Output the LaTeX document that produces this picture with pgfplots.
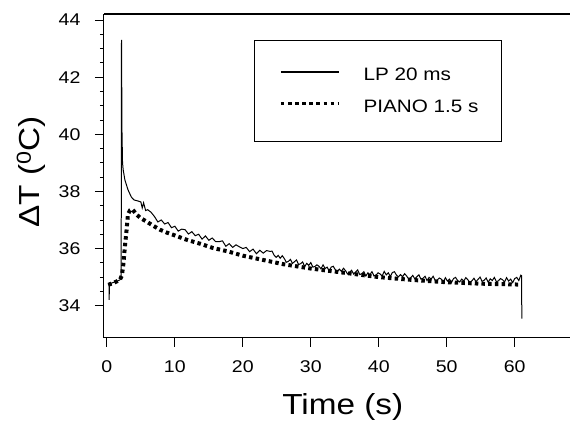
\documentclass[border=0pt]{standalone}
\usepackage{pgfplots}
\pgfplotsset{compat=1.18}
\usepackage{fontspec}
\setmainfont[FakeStretch=1.15]{Liberation Sans}
\begin{document}
\begin{tikzpicture}
\begin{axis}[
  at={(0pt,0pt)}, anchor=south west,
  scale only axis, width=467pt, height=324pt,
  xmin=-0.44, xmax=68.2, ymin=32.88, ymax=44.21,
  axis x line*=box, axis y line*=left,
  xtick pos=bottom,
  xtick={0,10,...,60}, ytick={34,36,...,44},
  minor y tick num=3,
  tick align=outside, major tick length=9pt, minor tick length=4pt,
  tick style={black, line width=0.9pt},
  axis line style={black, line width=1.1pt},
  /pgf/number format/assume math mode=true,
  tick label style={font=\fontsize{17}{20}\selectfont},
  x tick label style={yshift=-10pt},
  y tick label style={xshift=-11pt},
  xlabel={Time (s)},
  ylabel={ΔT (\textsuperscript{0}C)},
  xlabel style={font=\fontsize{29}{34}\selectfont, at={(axis description cs:0.512,-0.2377)}, anchor=base},
  ylabel style={font=\fontsize{29}{34}\selectfont, at={(axis description cs:-0.137,0.512)}, anchor=base, rotate=0},
  legend style={at={(axis description cs:0.321,0.92)}, anchor=north west, draw=black, line width=0.7pt,
     inner xsep=23pt, inner ysep=27pt, row sep=17pt, font=\fontsize{18}{21}\selectfont,
     nodes={inner sep=0pt}, /tikz/every odd column/.append style={column sep=23pt}},
  legend cell align=left,
  reverse legend,
  legend image code/.code={\path[draw=none] (0pt,-2pt) rectangle (62pt,8pt); \draw[#1] (4pt,3.7pt) -- (62pt,3.7pt);},
]
\addplot[black, line width=4pt, dash pattern=on 3.5pt off 3.2pt, legend image post style={line width=3.2pt, dash pattern=on 3.5pt off 3.6pt}] coordinates {
(0.2,34.73) (1.0,34.8) (1.9,34.9) (2.2,35.05) (2.4,35.4) (2.65,36.07) (2.9,36.66) (3.1,37.2) (3.4,37.34) (3.7,37.38) (4.0,37.3) (4.4,37.18) (5.0,37.06) (5.8,36.95) (6.8,36.8) (7.8,36.66) (8.8,36.56) (9.75,36.48) (11.7,36.31) (13.7,36.17) (15.6,36.02) (17.8,35.9) (20,35.75) (23,35.6) (26,35.45) (30,35.3) (35,35.15) (40,35.0) (45,34.9) (50,34.82) (55,34.77) (60.5,34.74)
};
\addlegendentry{PIANO 1.5 s}
\addplot[black, line width=1pt, legend image post style={line width=2pt}] coordinates {
(0.2,34.73) (0.33,34.77) (0.34,34.2) (0.36,34.76) (0.8,34.8) (1.3,34.84) (1.9,34.9) (2.1,34.95) (2.15,43.3) (2.22,40.1) (2.3,39.0) (2.4,38.75) (2.65,38.4) (3.1,38.06) (3.6,37.8) (4.0,37.7)
(4.5,37.67) (5.0,37.63) (5.2,37.42) (5.4,37.6) (5.7,37.33) (6.0,37.36) (6.5,37.27) (7.0,37.12) (7.5,36.93) (8.0,37.0) (8.5,36.86) (9.0,36.91) (9.5,36.73) (10.0,36.78) (10.5,36.61) (11.0,36.68) (11.5,36.66) (12.0,36.51) (12.5,36.59) (13.0,36.45) (13.5,36.5) (14.0,36.33) (14.5,36.44) (15.0,36.29) (15.5,36.37) (16.0,36.24) (16.5,36.24) (17.0,36.27) (17.5,36.08) (18.0,36.17) (18.5,36.04) (19.0,36.13) (19.5,36.06) (20.0,36.0) (20.5,36.04) (21.0,35.89) (21.5,35.98) (22.0,35.82) (22.5,35.94) (23.0,35.84) (23.5,35.93)
(24.0,35.90) (24.3,35.91) (24.6,35.77) (24.9,35.69) (25.2,35.76) (25.5,35.66) (25.8,35.75) (26.1,35.65) (26.4,35.52) (26.7,35.55) (27.0,35.62) (27.3,35.48) (27.6,35.54) (27.9,35.60) (28.2,35.44) (28.5,35.47) (28.8,35.53) (29.1,35.37) (29.4,35.48) (29.7,35.41) (30.0,35.51) (30.3,35.35) (30.6,35.37) (30.9,35.43) (31.2,35.38) (31.5,35.29) (31.8,35.43) (32.1,35.30) (32.4,35.35) (32.7,35.22)
(33.0,35.35) (33.3,35.38) (33.6,35.26) (33.9,35.19) (34.2,35.28) (34.5,35.20) (34.8,35.31) (35.1,35.23) (35.4,35.11) (35.7,35.16) (36.0,35.24) (36.3,35.11) (36.6,35.18) (36.9,35.25) (37.2,35.09) (37.5,35.12) (37.8,35.19) (38.1,35.04) (38.4,35.15) (38.7,35.09) (39.0,35.19) (39.3,35.04) (39.6,35.07) (39.9,35.15) (40.2,35.11) (40.5,35.04) (40.8,35.20) (41.1,35.08) (41.4,35.15) (41.7,35.02)
(42.0,35.16) (42.3,35.19) (42.6,35.07) (42.9,35.01) (43.2,35.09) (43.5,35.01) (43.8,35.12) (44.1,35.04) (44.4,34.93) (44.7,34.98) (45.0,35.06) (45.3,34.94) (45.6,35.01) (45.9,35.08) (46.2,34.93) (46.5,34.96) (46.8,35.03) (47.1,34.88) (47.4,34.99) (47.7,34.93) (48.0,35.03) (48.3,34.88) (48.6,34.90) (48.9,34.97) (49.2,34.93) (49.5,34.84) (49.8,34.98) (50.1,34.86) (50.4,34.93) (50.7,34.81)
(51.0,34.95) (51.3,34.99) (51.6,34.88) (51.9,34.83) (52.2,34.93) (52.5,34.86) (52.8,34.98) (53.1,34.91) (53.4,34.81) (53.7,34.87) (54.0,34.96) (54.3,34.84) (54.6,34.92) (54.9,35.00) (55.2,34.85) (55.5,34.89) (55.8,34.97) (56.1,34.82) (56.4,34.94) (56.7,34.88) (57.0,34.99) (57.3,34.84) (57.6,34.87) (57.9,34.95) (58.2,34.91) (58.5,34.83) (58.8,34.98) (59.1,34.86) (59.4,34.93) (59.7,34.81)
(60.0,34.95) (60.3,34.99) (60.6,34.88) (60.9,35.07) (61.0,35.05) (61.05,33.55)
};
\addlegendentry{LP 20 ms}
\end{axis}
\path[use as bounding box] (-104pt,-83pt) rectangle (467pt,338pt);
\end{tikzpicture}
\end{document}
